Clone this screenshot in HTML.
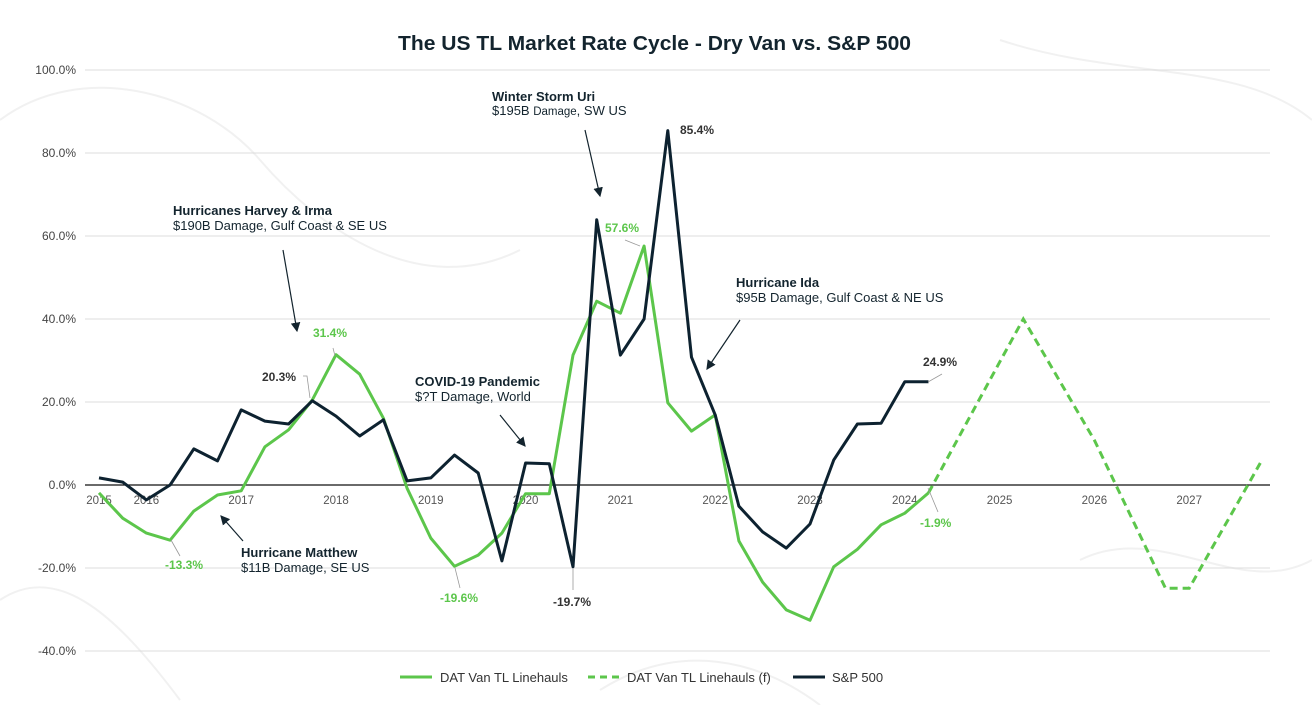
<!DOCTYPE html>
<html><head><meta charset="utf-8">
<style>
html,body{margin:0;padding:0;background:#fff;}
svg{display:block;font-family:"Liberation Sans",sans-serif;}
</style></head>
<body>
<svg id="chart" width="1312" height="705" viewBox="0 0 1312 705" xmlns="http://www.w3.org/2000/svg">
<g fill="none" stroke="#f1f1f1" stroke-width="2">
<path d="M0,120 C80,60 200,90 260,160 S420,300 520,250"/>
<path d="M1000,40 C1120,80 1240,60 1312,120"/>
<path d="M0,600 C60,560 120,620 180,700"/>
<path d="M1080,560 C1160,520 1240,600 1312,560"/>
<path d="M600,690 C680,640 760,660 820,705"/>
</g>
<text x="398" y="50" textLength="513" lengthAdjust="spacingAndGlyphs" font-size="20" font-weight="bold" fill="#13242e">The US TL Market Rate Cycle - Dry Van vs. S&amp;P 500</text>
<g id="grid"></g>
<g id="xlabels"></g>
<g id="series"></g>
<g font-size="13" fill="#13242e">
<text x="492" y="101" font-weight="bold">Winter Storm Uri</text>
<text x="492" y="115">$195B <tspan font-size="11.5">Damage</tspan>, SW US</text>
<text x="173" y="215" font-weight="bold">Hurricanes Harvey &amp; Irma</text>
<text x="173" y="230">$190B Damage, Gulf Coast &amp; SE US</text>
<text x="736" y="287" font-weight="bold">Hurricane Ida</text>
<text x="736" y="302">$95B Damage, Gulf Coast &amp; NE US</text>
<text x="415" y="386" font-weight="bold">COVID-19 Pandemic</text>
<text x="415" y="401">$?T Damage, World</text>
<text x="241" y="557" font-weight="bold">Hurricane Matthew</text>
<text x="241" y="572">$11B Damage, SE US</text>
</g>
<defs><marker id="ah" markerWidth="8" markerHeight="8" refX="7" refY="4" orient="auto"><path d="M0,0 L8,4 L0,8 z" fill="#13242e"/></marker></defs>
<g stroke="#13242e" stroke-width="1.2" marker-end="url(#ah)">
<line x1="585" y1="130" x2="600" y2="196"/>
<line x1="283" y1="250" x2="297" y2="331"/>
<line x1="740" y1="320" x2="707" y2="369"/>
<line x1="500" y1="415" x2="525" y2="446"/>
<line x1="243" y1="541" x2="221" y2="516"/>
</g>
<g font-size="12" font-weight="bold">
<text x="313" y="337" fill="#5cc64b">31.4%</text>
<text x="262" y="381" fill="#333">20.3%</text>
<text x="680" y="134" fill="#333">85.4%</text>
<text x="605" y="232" fill="#5cc64b">57.6%</text>
<text x="923" y="366" fill="#333">24.9%</text>
<text x="920" y="527" fill="#5cc64b">-1.9%</text>
<text x="165" y="569" fill="#5cc64b">-13.3%</text>
<text x="440" y="602" fill="#5cc64b">-19.6%</text>
<text x="553" y="606" fill="#333">-19.7%</text>
</g>
<g stroke="#999" stroke-width="0.8" fill="none">
<path d="M303,376 L307,376 L310,398"/>
<path d="M640,246 L625,240"/>
<path d="M928,382 L942,374"/>
<path d="M928,488 L938,512"/>
<path d="M171,540 L180,556"/>
<path d="M455,568 L460,588"/>
<path d="M573,568 L573,590"/>
<path d="M335,356 L333,348"/>
</g>
<g font-size="13" fill="#333">
<line x1="400" y1="677" x2="432" y2="677" stroke="#5cc64b" stroke-width="3"/>
<text x="440" y="682">DAT Van TL Linehauls</text>
<line x1="588" y1="677" x2="620" y2="677" stroke="#5cc64b" stroke-width="3" stroke-dasharray="7,5"/>
<text x="627" y="682">DAT Van TL Linehauls (f)</text>
<line x1="793" y1="677" x2="825" y2="677" stroke="#0d2230" stroke-width="3"/>
<text x="832" y="682">S&amp;P 500</text>
</g>
</svg>
<script>
const yTicks = [-40, -20, 0, 20, 40, 60, 80, 100];
const yearLabels = ["2015","2016","2017","2018","2019","2020","2021","2022","2023","2024","2025","2026","2027"];
const yearIndex = [0, 2, 6, 10, 14, 18, 22, 26, 30, 34, 38, 42, 46];
const datValues = [-1.9,-8.0,-11.6,-13.3,-6.3,-2.4,-1.4,9.2,13.3,20.5,31.4,26.7,16.1,-0.8,-12.8,-19.6,-16.9,-11.6,-2.1,-2.1,31.3,44.3,41.4,57.6,19.8,13.0,16.9,-13.5,-23.4,-30.1,-32.6,-19.7,-15.5,-9.6,-6.8,-1.9];
const forecastStart = 35;
const forecastValues = [-1.9,8.6,19.1,29.6,40.0,30.3,20.5,10.8,-1.1,-13.0,-24.9,-24.9,-14.8,-4.8,5.3];
const spValues = [1.7,0.7,-3.6,0.0,8.7,5.8,18.1,15.4,14.7,20.3,16.6,11.8,15.7,1.0,1.7,7.2,2.9,-18.3,5.3,5.1,-19.7,63.9,31.3,40.0,85.4,30.8,16.9,-5.1,-11.3,-15.2,-9.4,6.0,14.7,14.9,24.9,24.9];

const NS = "http://www.w3.org/2000/svg";
const x = i => 99 + i * 23.7;
const y = v => 485 - v * 4.15;
function mk(tag, attrs, parent){const e=document.createElementNS(NS,tag);for(const k in attrs)e.setAttribute(k,attrs[k]);parent.appendChild(e);return e;}

const grid = document.getElementById('grid');
yTicks.forEach(t=>{
  const ln = mk('line',{x1:85,x2:1270,y1:y(t),y2:y(t),stroke:t===0?'#111':'#dcdcdc','stroke-width':t===0?1.2:1},grid);
  
  
  const tx = mk('text',{x:76,y:y(t)+4,'text-anchor':'end','font-size':12,fill:'#444'},grid);
  tx.textContent = t.toFixed(1)+'%';
  
  
});
const xl = document.getElementById('xlabels');
yearLabels.forEach((lab,k)=>{
  const tx = mk('text',{x:x(yearIndex[k]),y:504,'text-anchor':'middle','font-size':11.5,fill:'#555'},xl);
  tx.textContent = lab;
  
  
});
const s = document.getElementById('series');
const pts = (arr,off)=>arr.map((v,i)=>x(i+off).toFixed(1)+','+y(v).toFixed(1)).join(' ');
const fl = mk('polyline',{points:pts(forecastValues,forecastStart),fill:'none',stroke:'#5cc64b','stroke-width':3,'stroke-dasharray':'8,5'},s);


const dl = mk('polyline',{points:pts(datValues,0),fill:'none',stroke:'#5cc64b','stroke-width':3,'stroke-linejoin':'round'},s);


const sl = mk('polyline',{points:pts(spValues,0),fill:'none',stroke:'#0d2230','stroke-width':3,'stroke-linejoin':'round'},s);


</script>
</body></html>
